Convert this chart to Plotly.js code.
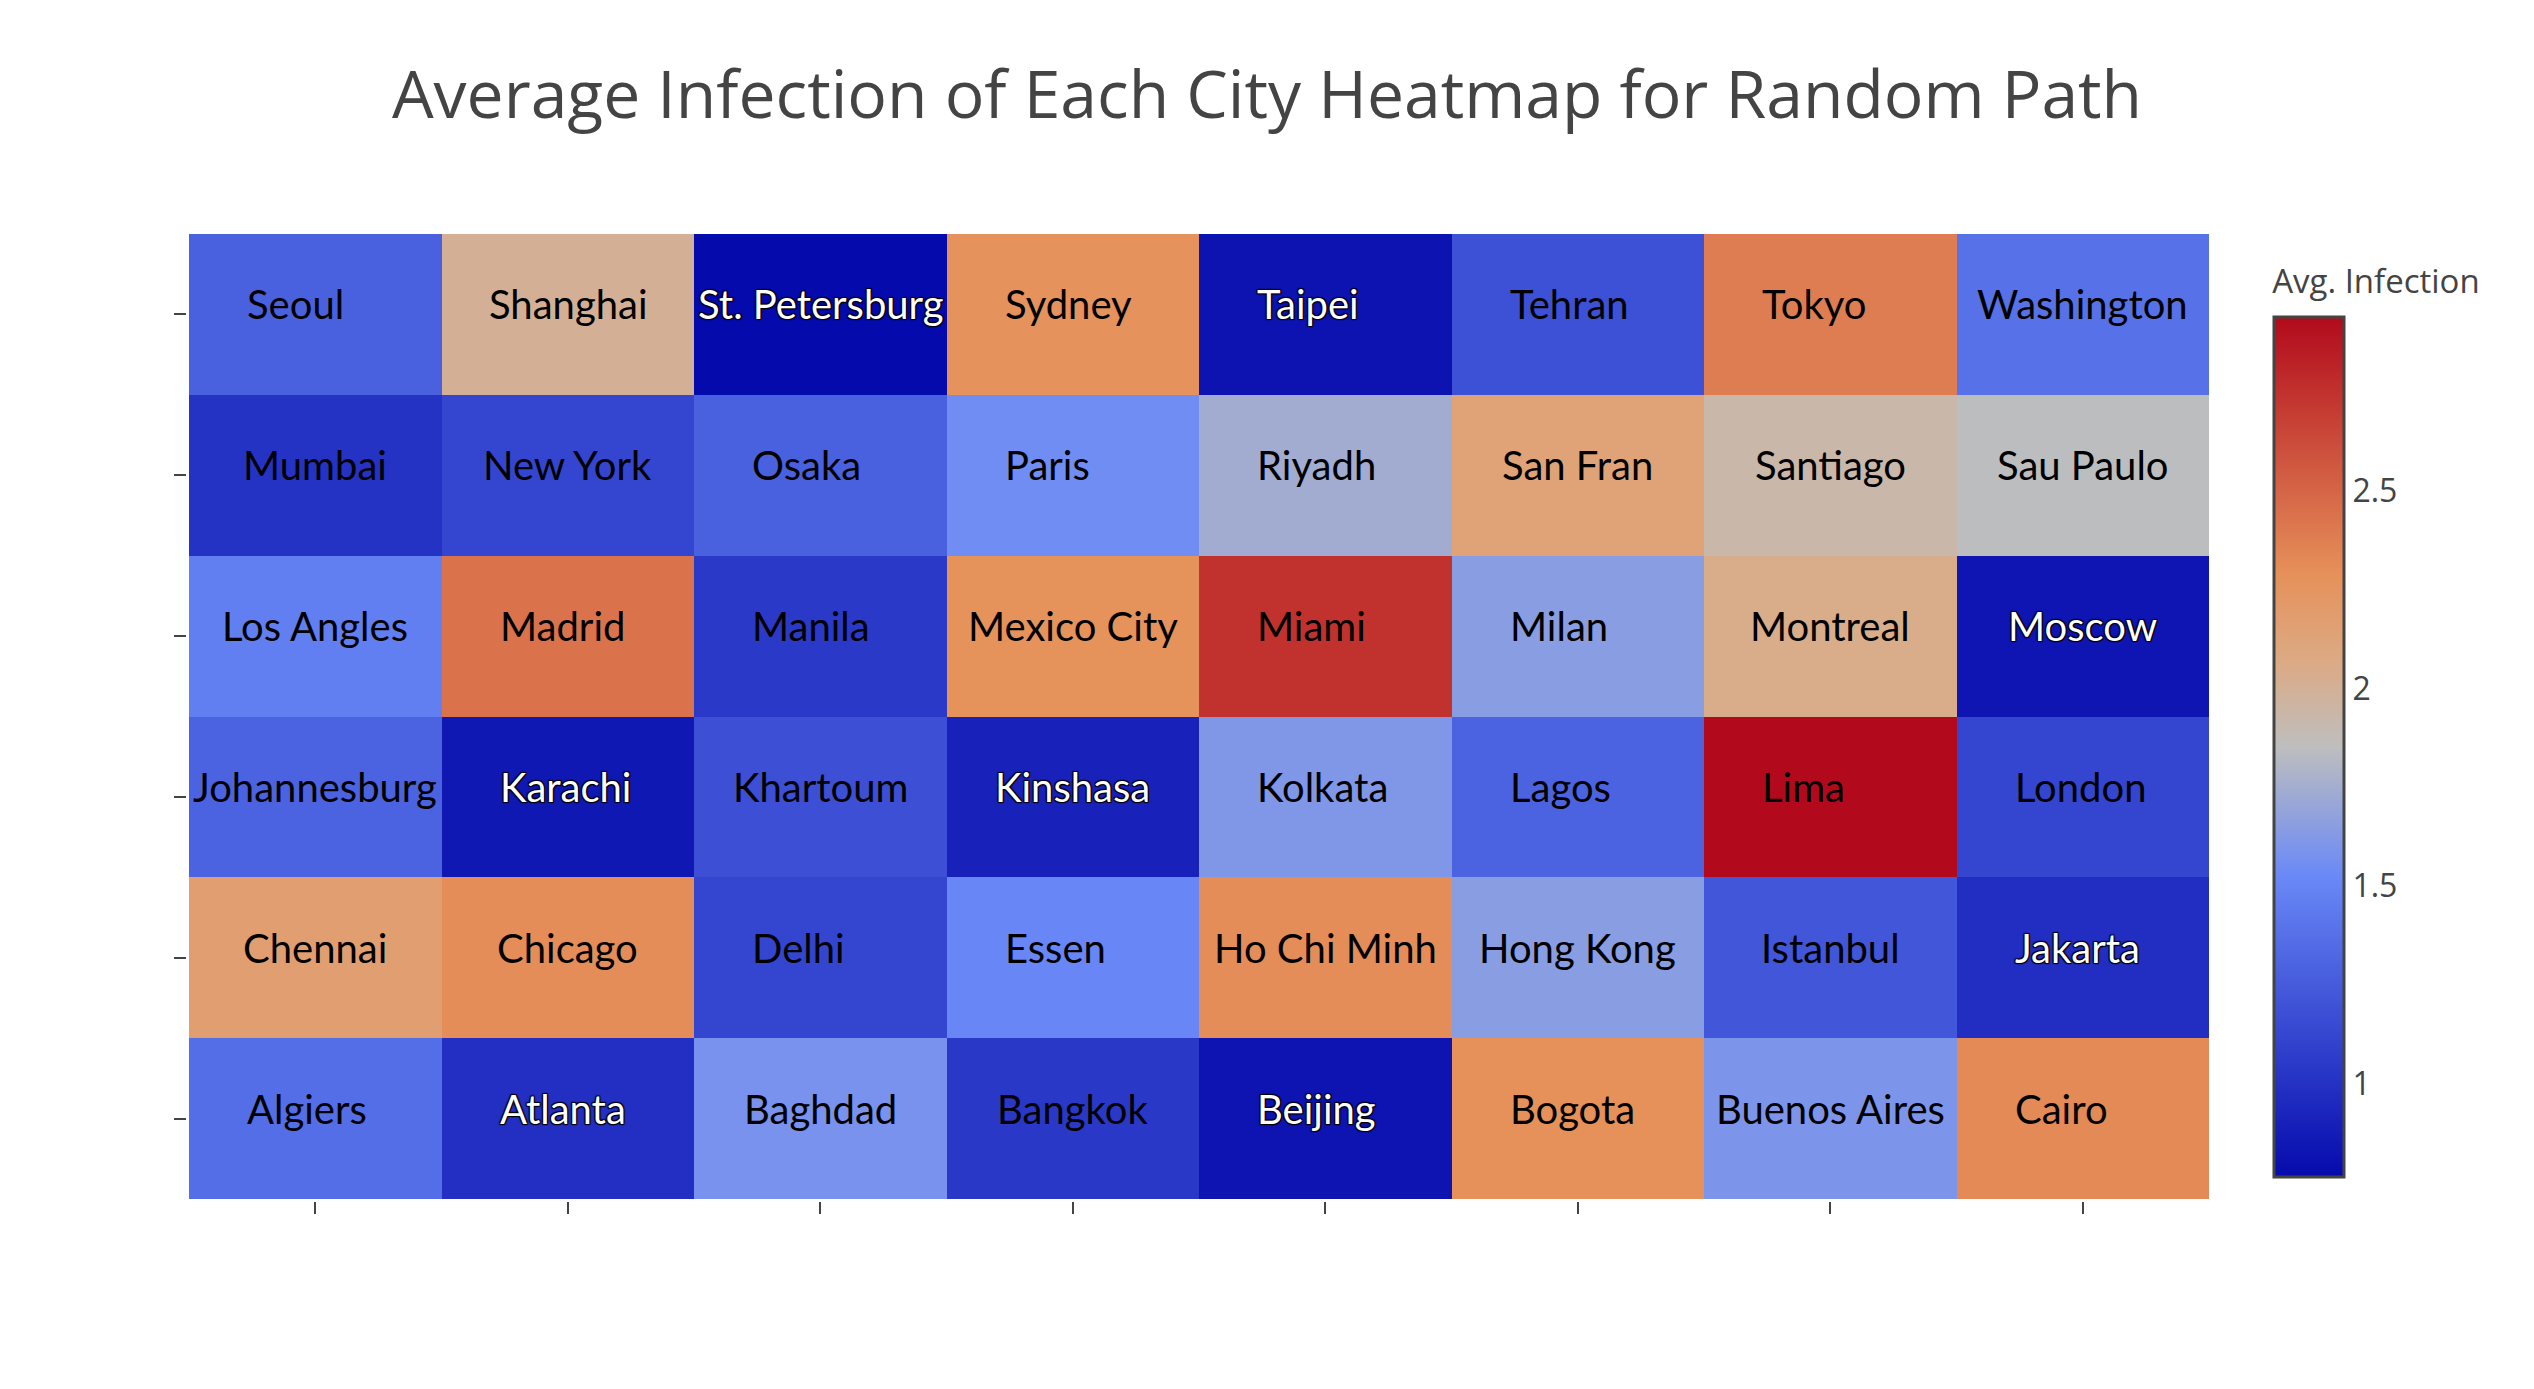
<!DOCTYPE html>
<html><head><meta charset="utf-8">
<script src="https://cdn.plot.ly/plotly-3.0.1.min.js"></script>
<style>html,body{margin:0;padding:0;background:#fff;}#chart{width:2534px;height:1389px;}</style>
</head><body><div id="chart"></div>
<script>
const titleText = "Average Infection of Each City Heatmap for Random Path";
const colorbarTitle = "Avg. Infection";

// rows from bottom to top
const namesRow1 = ["Algiers","Atlanta","Baghdad","Bangkok","Beijing","Bogota","Buenos Aires","Cairo"];
const namesRow2 = ["Chennai","Chicago","Delhi","Essen","Ho Chi Minh","Hong Kong","Istanbul","Jakarta"];
const namesRow3 = ["Johannesburg","Karachi","Khartoum","Kinshasa","Kolkata","Lagos","Lima","London"];
const namesRow4 = ["Los Angles","Madrid","Manila","Mexico City","Miami","Milan","Montreal","Moscow"];
const namesRow5 = ["Mumbai","New York","Osaka","Paris","Riyadh","San Fran","Santiago","Sau Paulo"];
const namesRow6 = ["Seoul","Shanghai","St. Petersburg","Sydney","Taipei","Tehran","Tokyo","Washington"];

const valuesRow1 = [1.363,0.987,1.581,1.043,0.822,2.288,1.598,2.320];
const valuesRow2 = [2.168,2.309,1.122,1.511,2.309,1.648,1.222,0.978];
const valuesRow3 = [1.298,0.848,1.178,0.909,1.611,1.298,2.940,1.122];
const valuesRow4 = [1.465,2.438,1.048,2.283,2.751,1.648,2.048,0.832];
const valuesRow5 = [1.009,1.122,1.287,1.548,1.742,2.135,1.933,1.846];
const valuesRow6 = [1.287,2.007,0.765,2.277,0.817,1.189,2.383,1.385];

const names = [namesRow1,namesRow2,namesRow3,namesRow4,namesRow5,namesRow6];
const z = [valuesRow1,valuesRow2,valuesRow3,valuesRow4,valuesRow5,valuesRow6];
const colIdx = namesRow1.map((_, i) => i);
const rowIdx = names.map((_, j) => j);

const labelFont = "Lato";
const labelSize = 40;
const darkThreshold = 1.0;
const boxHalf = 68;

const ctx = document.createElement("canvas").getContext("2d");
ctx.font = labelSize + "px " + labelFont;

const annotations = [];
names.forEach((row, j) => {
  row.forEach((name, i) => {
    const tw = ctx.measureText(name).width;
    const shift = tw < 2 * boxHalf ? -(2 * boxHalf - tw) / 2 : 0;
    const dark = z[j][i] < darkThreshold;
    const font = {family: labelFont, size: labelSize, color: dark ? "#ffffff" : "#000000"};
    if (dark) font.shadow = "1px 1px 1px #000, -1px -1px 1px #000, 1px -1px 1px #000, -1px 1px 1px #000";
    annotations.push({x: colIdx[i], y: rowIdx[j], xref: "x", yref: "y", text: name,
      showarrow: false, xanchor: "center", yanchor: "middle", xshift: shift, yshift: 10, font: font});
  });
});

const trace = {
  type: "heatmap", x: colIdx, y: rowIdx, z: z,
  colorscale: "RdBu",
  hoverinfo: "z",
  colorbar: {
    title: {text: colorbarTitle, side: "top", font: {family: "Open Sans", size: 33, color: "#444"}},
    tickfont: {family: "Open Sans", size: 32, color: "#444"},
    thickness: 70, outlinewidth: 3, outlinecolor: "#444",
    x: 1.032, xanchor: "left", xpad: 0,
    y: 0.966, yanchor: "top", len: 0.943, ypad: 0,
    ticks: ""
  }
};

const axisCommon = {showticklabels: false, ticks: "outside", ticklen: 12, tickwidth: 2, tickcolor: "#444",
  showgrid: false, zeroline: false, showline: true, linecolor: "#ffffff", linewidth: 3};

const layout = {
  width: 2534, height: 1389,
  margin: {l: 189, r: 325, t: 234, b: 190},
  paper_bgcolor: "#ffffff", plot_bgcolor: "#ffffff",
  font: {family: "Open Sans", color: "#444"},
  title: {text: titleText, font: {family: "Open Sans", size: 66, color: "#444"},
    x: 0.5, xanchor: "center", y: 1 - 95 / 1389, yanchor: "middle"},
  xaxis: Object.assign({tickvals: colIdx}, axisCommon),
  yaxis: Object.assign({tickvals: rowIdx}, axisCommon),
  annotations: annotations
};

Plotly.newPlot("chart", [trace], layout, {displayModeBar: false});
</script></body></html>
